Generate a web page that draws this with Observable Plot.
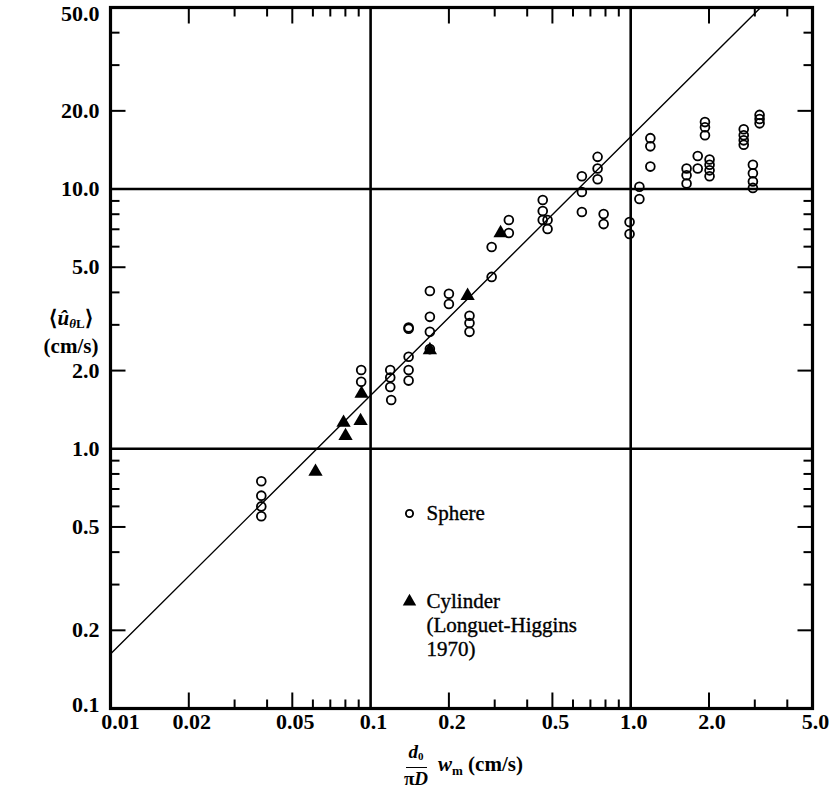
<!DOCTYPE html>
<html><head><meta charset="utf-8">
<script src="https://cdn.jsdelivr.net/npm/d3@7"></script>
<script src="https://cdn.jsdelivr.net/npm/@observablehq/plot@0.6"></script>
<style>
body{margin:0;background:#fff;}
#wrap{position:relative;width:829px;height:789px;font-family:"Liberation Serif","Times New Roman",serif;color:#000;}
#chart{position:absolute;left:0;top:0;}
.ytitle{position:absolute;left:28px;top:307px;width:86px;text-align:center;font-size:21px;font-weight:bold;line-height:23px;}
.ytitle i{font-style:italic;}
.ytitle sub{font-size:13px;vertical-align:-3px;}
.frac{position:absolute;left:396px;top:743px;width:40px;display:flex;flex-direction:column;align-items:center;font-size:19px;font-weight:bold;line-height:17px;}
.frac .num{border-bottom:1.6px solid #000;padding:0 3px 2px 3px;font-style:italic;}
.frac .num sub{font-size:11px;font-style:normal;vertical-align:-2px;}
.frac .den{padding-top:2px;}
.frac .den i{font-style:italic;}
.wm{position:absolute;left:438px;top:752px;font-size:21px;font-weight:bold;white-space:nowrap;}
.wm i{font-style:italic;}
.wm sub{font-size:13px;vertical-align:-4px;}
</style></head>
<body>
<div id="wrap">
  <div id="chart"></div>
  <div class="ytitle">⟨<i>û</i><sub><i>θ</i>L</sub>⟩<br>(cm/s)</div>
  <div class="frac"><span class="num">d<sub>0</sub></span><span class="den">π<i>D</i></span></div>
  <div class="wm"><i>w</i><sub>m</sub>&nbsp;(cm/s)</div>
</div>
<script>
// ---- data ----
const sphereX = [0.038,0.038,0.038,0.038, 0.092,0.092, 0.119,0.119,0.119,0.120, 0.140,0.140,0.140,0.140,0.140,
  0.169,0.169,0.169,0.169, 0.20,0.20, 0.24,0.24,0.24, 0.292,0.292, 0.34,0.34, 0.459,0.459,0.459,0.479,0.479,
  0.649,0.649,0.649, 0.746,0.746,0.746, 0.787,0.787, 0.99,0.99, 1.08,1.08, 1.19,1.19,1.19,
  1.64,1.64,1.64, 1.81,1.81, 1.93,1.93,1.93, 2.01,2.01,2.01,2.01, 2.72,2.72,2.72,2.72,
  2.95,2.95,2.95,2.95, 3.13,3.13,3.13];
const sphereY = [0.75,0.66,0.60,0.55, 2.01,1.81, 2.01,1.88,1.73,1.54, 2.90,2.93,2.26,2.01,1.83,
  4.05,3.22,2.82,2.42, 3.95,3.61, 3.25,3.05,2.82, 5.98,4.59, 7.60,6.77, 9.07,8.23,7.60,7.60,7.02,
  11.2,9.74,8.16, 13.3,12.0,10.9, 8.01,7.33, 7.46,6.71, 10.2,9.15, 15.7,14.6,12.2,
  12.0,11.3,10.5, 13.4,12.0, 18.1,17.3,16.1, 13.0,12.4,11.8,11.2, 17.0,16.1,15.4,14.8,
  12.4,11.5,10.7,10.1, 19.3,18.6,17.9];
const cylinderX = [0.0614,0.0787,0.0801,0.0915,0.0923,0.169,0.236,0.316];
const cylinderY = [0.816,1.26,1.12,1.28,1.63,2.40,3.88,6.77];
const fitX = [0.01, 3.16];
const fitY = [0.162, 50];
const xLabelVals = [0.01,0.02,0.05,0.1,0.2,0.5,1,2,5];
const xLabelText = ["0.01","0.02","0.05","0.1","0.2","0.5","1.0","2.0","5.0"];
const yLabelVals = [0.1,0.2,0.5,1,2,5,10,20,50];
const yLabelText = ["0.1","0.2","0.5","1.0","2.0","5.0","10.0","20.0","50.0"];
const xMajor = [0.02,0.05,0.2,0.5,2];
const xMinor = [0.03,0.04,0.06,0.07,0.08,0.09,0.3,0.4,0.6,0.7,0.8,0.9,3,4];
const yMajor = [0.2,0.5,2,5,20];
const yMinor = [0.3,0.4,0.6,0.7,0.8,0.9,3,4,6,7,8,9,30,40];
const xGrid = [0.1, 1];
const yGrid = [1, 10];
const legendItems = ["Sphere", "Cylinder", "(Longuet-Higgins", "1970)"];

// ---- build ----
const spheres = sphereX.map((x, i) => ({x, y: sphereY[i]}));
const cylinders = cylinderX.map((x, i) => ({x, y: cylinderY[i]}));
const fit = fitX.map((x, i) => ({x, y: fitY[i]}));
const line = {draw(ctx, l) { ctx.moveTo(0, 0); ctx.lineTo(0, -l); }};
const tk = (len, anchor, rot, data, isX) => (isX ? Plot.vectorX : Plot.vectorY)(data, {
  frameAnchor: anchor, length: len, rotate: rot, anchor: "start", shape: line,
  stroke: "black", strokeWidth: 2, strokeLinecap: "butt"
});
const lab = {fontSize: 22, fontWeight: "bold", fill: "black"};
const xText = (v, i) => xLabelText[i];
const yText = (v, i) => yLabelText[i];

const W = 829, H = 789, ML = 110, MT = 7;
const legend = (i, dy) => Plot.text([legendItems[i]], {frameAnchor: "top-left", text: d => d,
  dx: 426 - ML, dy: dy - MT, textAnchor: "start", lineAnchor: "middle", fontSize: 21,
  fill: "black", stroke: "black", strokeWidth: 0.35});

const chart = Plot.plot({
  width: W, height: H,
  marginLeft: ML, marginRight: 17, marginTop: MT, marginBottom: 81,
  style: {fontFamily: "'Liberation Serif', 'Times New Roman', serif", background: "white"},
  x: {type: "log", domain: [0.01, 5], axis: null},
  y: {type: "log", domain: [0.1, 50], axis: null},
  marks: [
    Plot.ruleX(xGrid, {stroke: "black", strokeWidth: 2.6}),
    Plot.ruleY(yGrid, {stroke: "black", strokeWidth: 2.6}),
    tk(16, "bottom", 0, xMajor, true), tk(9, "bottom", 0, xMinor, true),
    tk(16, "top", 180, xMajor, true), tk(9, "top", 180, xMinor, true),
    tk(15, "left", 90, yMajor, false), tk(9, "left", 90, yMinor, false),
    tk(15, "right", -90, yMajor, false), tk(9, "right", -90, yMinor, false),
    Plot.frame({stroke: "black", strokeWidth: 3.2}),
    Plot.line(fit, {x: "x", y: "y", stroke: "black", strokeWidth: 1.4}),
    Plot.dot(spheres, {x: "x", y: "y", r: 4.4, stroke: "black", strokeWidth: 1.8, fill: "none"}),
    Plot.dot(cylinders, {x: "x", y: "y", r: 5.3, symbol: "triangle", fill: "black", stroke: "none"}),
    // tick labels
    Plot.text(xLabelVals, {x: d => d, text: xText, frameAnchor: "bottom", dy: 20, dx: 3, ...lab, filter: d => d !== 0.01}),
    Plot.text(xLabelVals, {x: d => d, text: xText, frameAnchor: "bottom", dy: 20, dx: 10, ...lab, filter: d => d === 0.01}),
    Plot.text(yLabelVals, {y: d => d, text: yText, frameAnchor: "left", dx: -11, textAnchor: "end", ...lab, filter: d => d !== 50 && d !== 0.1}),
    Plot.text(yLabelVals, {y: d => d, text: yText, frameAnchor: "left", dx: -11, dy: 6, textAnchor: "end", ...lab, filter: d => d === 50}),
    Plot.text(yLabelVals, {y: d => d, text: yText, frameAnchor: "left", dx: -11, dy: -4, textAnchor: "end", ...lab, filter: d => d === 0.1}),
    // legend
    Plot.dot([legendItems[0]], {frameAnchor: "top-left", dx: 409 - ML, dy: 513 - MT, r: 3.6, stroke: "black", strokeWidth: 1.9, fill: "none"}),
    Plot.dot([legendItems[1]], {frameAnchor: "top-left", dx: 409 - ML, dy: 601 - MT, r: 5, symbol: "triangle", fill: "black"}),
    legend(0, 513), legend(1, 601), legend(2, 625), legend(3, 649)
  ]
});
document.getElementById("chart").appendChild(chart);
</script>
</body></html>
